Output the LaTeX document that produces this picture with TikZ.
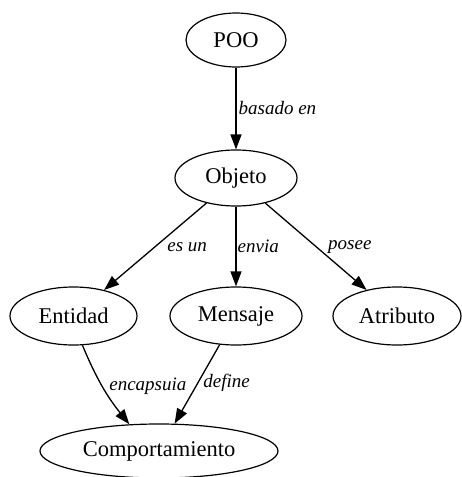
\documentclass[tikz,border=0pt]{standalone}
\usepackage{fontspec}
\setmainfont{Liberation Serif}
\usetikzlibrary{shapes.geometric,arrows.meta}

\begin{document}
\begin{tikzpicture}[x=1pt,y=-1pt,>={Triangle[length=15pt,width=11pt]},
  concepto/.style={ellipse,draw,line width=1.2pt,inner sep=0pt,font=\fontsize{22.5}{27}\selectfont},
  enlace/.style={->,line width=1.3pt},
  rotulo/.style={font=\fontsize{19}{23}\selectfont\itshape,inner sep=0pt,anchor=west}]
\useasboundingbox (0,0) rectangle (461,477);
\node[concepto,minimum width=100pt,minimum height=54pt] (poo) at (236,40) {POO};
\node[concepto,minimum width=122pt,minimum height=56pt] (objeto) at (236,178) {Objeto};
\node[concepto,minimum width=127pt,minimum height=58pt] (entidad) at (73.5,316) {Entidad};
\node[concepto,minimum width=132pt,minimum height=58pt] (mensaje) at (236,316) {Mensaje};
\node[concepto,minimum width=128pt,minimum height=58pt] (atributo) at (397,316) {Atributo};
\node[concepto,minimum width=238pt,minimum height=54pt] (comport) at (159,451) {Comportamiento};
\draw[enlace] (poo) -- (objeto) node[rotulo,midway,xshift=2pt]{basado en};
\draw[enlace] (objeto) -- (entidad) node[rotulo,pos=0.506,xshift=12pt]{es un};
\draw[enlace] (objeto) -- (mensaje) node[rotulo,midway,xshift=1pt]{envia};
\draw[enlace] (objeto) -- (atributo) node[rotulo,pos=0.506,xshift=11pt]{posee};
\draw[enlace] (entidad.-73) to[bend right=8] node[rotulo,midway,xshift=6pt]{encapsuia} (comport.138);
\draw[enlace] (mensaje) -- (comport) node[rotulo,pos=0.486,xshift=5pt]{define};
\end{tikzpicture}
\end{document}
